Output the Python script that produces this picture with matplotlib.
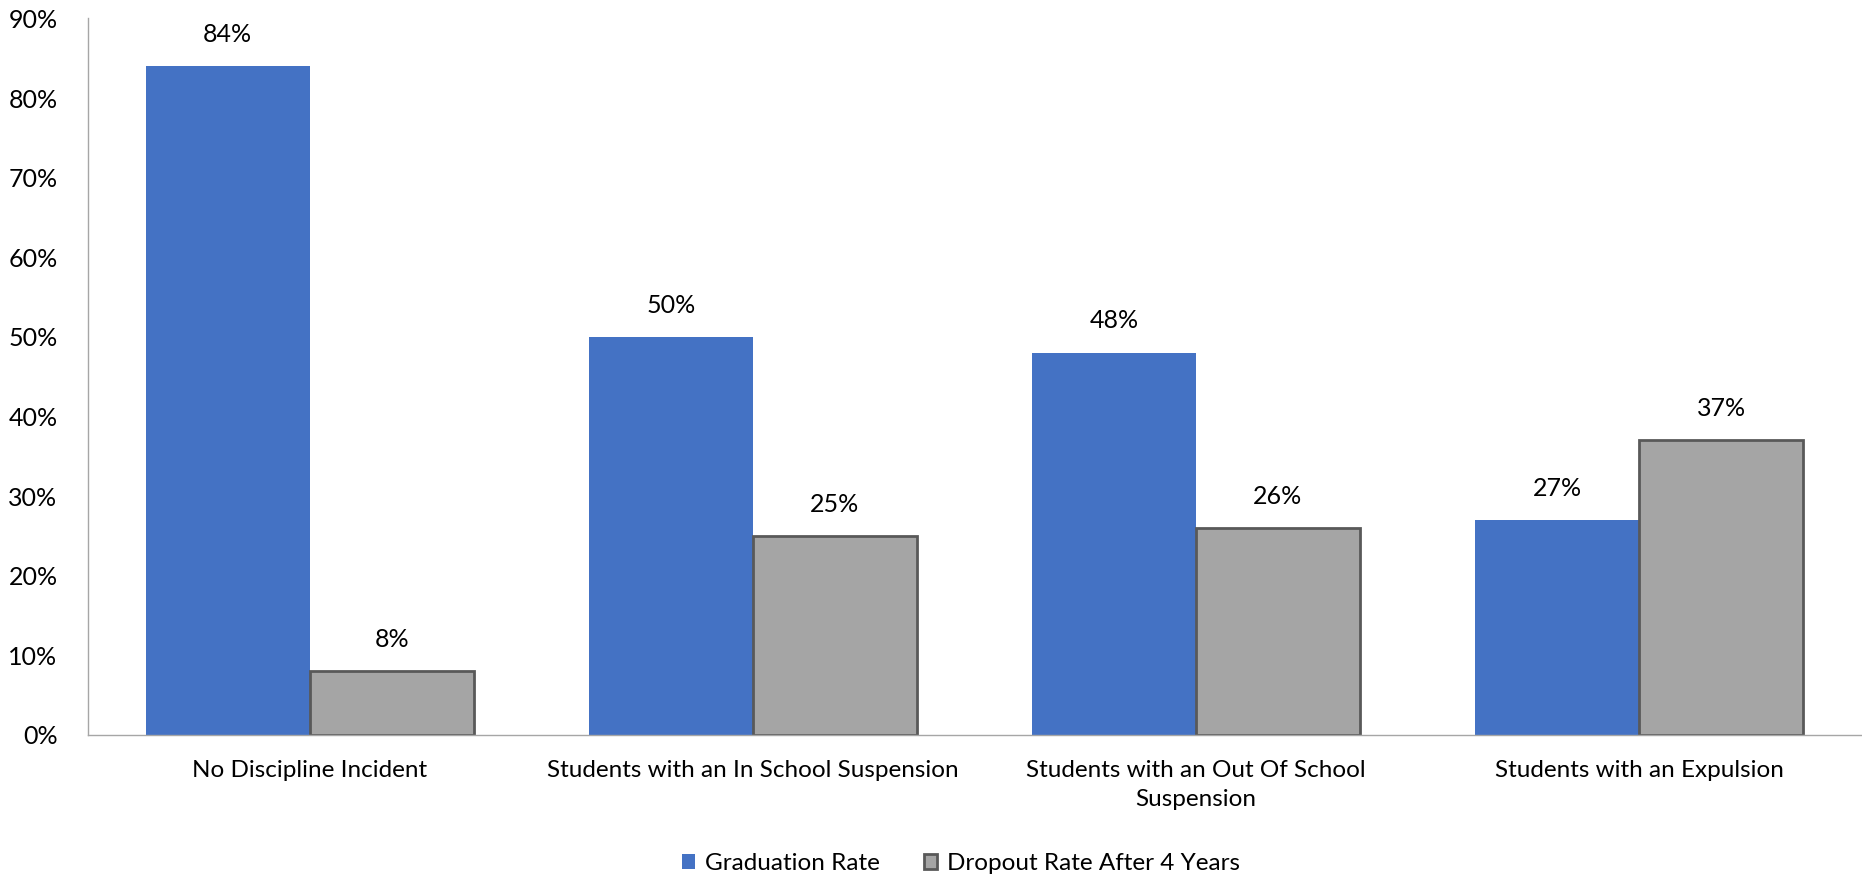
import matplotlib.pyplot as plt
import numpy as np
from matplotlib.ticker import PercentFormatter

# categories and rates (percent)
categories = [
    "No Discipline Incident",
    "Students with an In School Suspension",
    "Students with an Out Of School\nSuspension",
    "Students with an Expulsion",
]
graduation = [84, 50, 48, 27]
dropout = [8, 25, 26, 37]

plt.rcParams['font.family'] = ['Lato', 'DejaVu Sans']

fig = plt.figure(figsize=(18.62, 8.76), dpi=100)
ax = fig.add_axes([0.0473, 0.161, 0.952, 0.818])

x = np.arange(len(categories))
w = 0.37

b1 = ax.bar(x - w / 2, graduation, w, color='#4472C4', label='Graduation Rate')
b2 = ax.bar(x + w / 2, dropout, w, color='#A5A5A5', edgecolor='#595959',
            linewidth=2, label='Dropout Rate After 4 Years')

# value labels above each bar
for bars, vals in [(b1, graduation), (b2, dropout)]:
    for rect, v in zip(bars, vals):
        ax.annotate(f"{v}%", (rect.get_x() + rect.get_width() / 2, v),
                    xytext=(0, 17.5), textcoords='offset points',
                    ha='center', va='baseline', fontsize=18)

ax.set_xlim(-0.5, 3.5)
ax.set_ylim(0, 90)
ax.set_yticks(range(0, 91, 10))
ax.yaxis.set_major_formatter(PercentFormatter(decimals=0))
ax.set_xticks(x)
ax.set_xticklabels(categories, fontsize=17.5, linespacing=1.45)
ax.tick_params(axis='y', labelsize=18, length=0, pad=22)
ax.tick_params(axis='x', length=0, pad=18)

for s in ['top', 'right']:
    ax.spines[s].set_visible(False)
for s in ['left', 'bottom']:
    ax.spines[s].set_color('#A6A6A6')
    ax.spines[s].set_linewidth(1)

fig.legend(loc='center', bbox_to_anchor=(0.516, 0.014), ncol=2, frameon=False,
           fontsize=17.5, handlelength=0.55, handleheight=0.55, handletextpad=0.4,
           columnspacing=1.8)

fig.savefig('out.png', dpi=100)
